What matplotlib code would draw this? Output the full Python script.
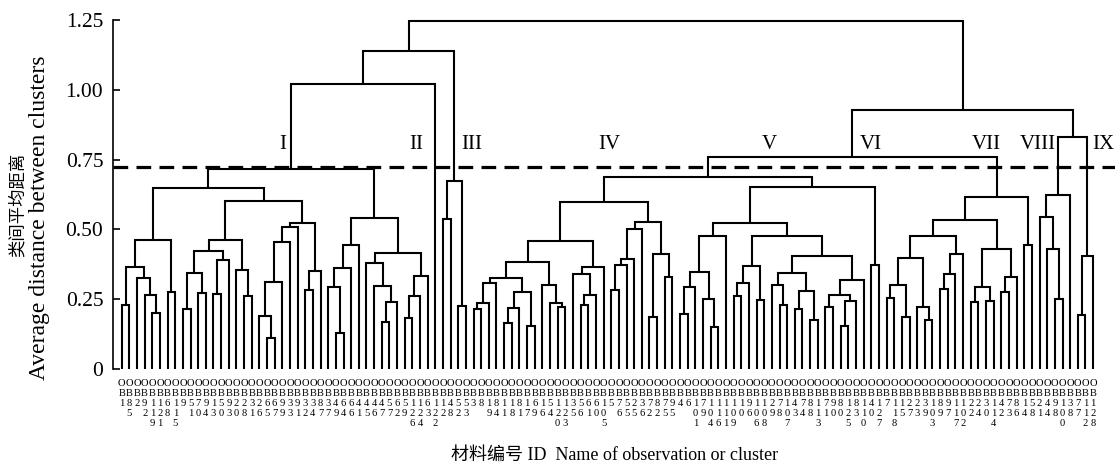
import matplotlib
matplotlib.use("Agg")
import matplotlib.pyplot as plt

plt.rcParams['font.family'] = ['Liberation Serif', 'Noto Sans CJK SC']

# sample numbers (OBxx) in leaf order, left to right
leaf_ids = [1, 85, 2, 92, 119, 121, 68, 115, 9, 51,
            70, 94, 13, 50, 93, 20, 28, 31, 26, 65,
            67, 99, 33, 91, 32, 34, 87, 37, 49, 64,
            66, 41, 45, 46, 47, 57, 62, 59, 126, 124,
            63, 122, 12, 48, 52, 53, 3, 8, 19, 84,
            11, 18, 81, 17, 69, 16, 54, 120, 123, 35,
            56, 61, 60, 105, 5, 76, 55, 25, 36, 72,
            82, 75, 95, 4, 6, 101, 79, 104, 116, 111,
            109, 10, 96, 106, 108, 29, 78, 107, 43, 74,
            88, 113, 71, 90, 80, 125, 83, 110, 40, 127,
            7, 118, 15, 27, 23, 39, 103, 89, 97, 117,
            102, 22, 24, 30, 114, 42, 73, 86, 14, 58,
            21, 44, 98, 100, 38, 77, 112, 128]

# merges: (left, right, height); an int is a leaf position 1..128
# cluster I
grp_a = (((1, 2, 0.229), (3, (4, (5, 6, 0.200), 0.265), 0.325), 0.367), (7, 8, 0.274), 0.462)
grp_b = ((((9, 10, 0.214), (11, 12, 0.271), 0.343), ((13, 14, 0.268), 15, 0.391), 0.421),
         (16, (17, 18, 0.262), 0.355), 0.462)
grp_c = (((((19, (20, 21, 0.110), 0.191), 22, 0.313), 23, 0.456), 24, 0.510),
         ((25, 26, 0.283), 27, 0.352), 0.522)
grp_d = (((((28, (29, 30, 0.130), 0.295), 31, 0.361), 32, 0.444)),
         ((33, (34, ((35, 36, 0.170), 37, 0.241), 0.297), 0.381),
          (((38, 39, 0.182), 40, 0.262), 41, 0.333), 0.417), 0.540)
clu_I = ((grp_a, (grp_b, grp_c, 0.600), 0.648), grp_d, 0.717)
clu_III = ((43, 44, 0.538), (45, 46, 0.227), 0.675)
left_half = ((clu_I, 42, 1.020), clu_III, 1.140)

# cluster IV
grp_e = (((((47, 48, 0.214), 49, 0.238), 50, 0.309)),
         (((51, 52, 0.166), 53, 0.217), (54, 55, 0.154), 0.275), 0.327)
grp_f = (56, (57, (58, 59, 0.223), 0.235), 0.301)
grp_g = ((60, ((61, 62, 0.229), 63, 0.265), 0.340), 64, 0.364)
grp_h = (((((65, 66, 0.283), 67, 0.373), 68, 0.393), 69, 0.500),
         ((70, 71, 0.188), (72, 73, 0.331), 0.411), 0.528)
clu_IV = (((grp_e, grp_f, 0.385), grp_g, 0.460), grp_h, 0.597)

# cluster V
grp_v1 = ((((74, 75, 0.197), 76, 0.293), (77, (78, 79, 0.152), 0.251), 0.349), 80, 0.477)
grp_v2 = ((((81, 82, 0.262), 83, 0.307), (84, 85, 0.247), 0.370))
grp_v3 = ((86, (87, 88, 0.229), 0.301), ((89, 90, 0.216), (91, 92, 0.176), 0.281), 0.344)
grp_v4 = (((93, 94, 0.223), ((95, 96, 0.154), 97, 0.244), 0.265), 98, 0.318)
clu_V = ((grp_v1, (grp_v2, (grp_v3, grp_v4, 0.404), 0.476), 0.522), (99, 100, 0.374), 0.652)

# cluster VII
grp_w1 = (((((101, 102, 0.253), (103, 104, 0.188), 0.301), (105, (106, 107, 0.176), 0.221), 0.397)),
          (((108, 109, 0.286), 110, 0.340), 111, 0.411), 0.477)
grp_w2 = (((112, 113, 0.241), (114, 115, 0.245), 0.293), ((116, 117, 0.277), 118, 0.329), 0.429)
clu_VII = ((grp_w1, grp_w2, 0.532), (119, 120, 0.444), 0.616)

clu_VIII = ((121, (122, (123, 124, 0.250), 0.429), 0.546), 125, 0.624)
clu_IX = ((126, 127, 0.194), 128, 0.405)

right_half = ((((clu_IV, clu_V, 0.688), clu_VII, 0.760)), (clu_VIII, clu_IX, 0.832), 0.927)
tree = (left_half, right_half, 1.248)

cut_height = 0.725
cluster_names = ['I', 'II', 'III', 'IV', 'V', 'VI', 'VII', 'VIII', 'IX']
name_x = [22.1, 39.5, 46.8, 64.8, 85.7, 98.9, 114.0, 120.8, 129.3]

fig = plt.figure(figsize=(11.15, 4.69), dpi=100)
ax = fig.add_axes([113 / 1115, 100 / 469, 987 / 1115, 349 / 469])


def draw(node):
    if isinstance(node, int):
        return node, 0.0
    a, b, h = node
    xa, ha = draw(a)
    xb, hb = draw(b)
    ax.plot([xa, xa, xb, xb], [ha, h, h, hb], color='black', lw=1.5,
            solid_joinstyle='miter', solid_capstyle='butt', clip_on=False)
    return (xa + xb) / 2, h


draw(tree)

ax.axhline(cut_height, xmin=0, xmax=1.016, color='black', lw=2.3,
           linestyle=(0, (4.6, 2.6)), clip_on=False)

for name, x in zip(cluster_names, name_x):
    ax.text(x, 0.805, name, ha='center', va='center', fontsize=15)

# leaf labels written top to bottom, one character per row
row_offsets = [11.9, 19.5, 26.7, 33.9, 41.1]
for i, lid in enumerate(leaf_ids):
    for j, ch in enumerate('OB' + str(lid)):
        ax.annotate(ch, xy=(i + 1, 0), xycoords=('data', 'axes fraction'),
                    xytext=(0, -row_offsets[j]), textcoords='offset points',
                    ha='center', va='baseline', fontsize=7.6,
                    annotation_clip=False)

ax.set_xlim(-0.137, 128.9)
ax.set_ylim(0, 1.25)
ax.set_xticks([])
ax.set_yticks([0, 0.25, 0.5, 0.75, 1.0, 1.25])
ax.set_yticklabels(['0', '0.25', '0.50', '0.75', '1.00', '1.25'])
ax.tick_params(axis='y', direction='in', length=5, width=1.2, pad=7, labelsize=15.5)
for side in ['top', 'right', 'bottom']:
    ax.spines[side].set_visible(False)
ax.spines['left'].set_linewidth(1.2)

fig.text(40 / 1115, 1 - 218 / 469, 'Average distance between clusters',
         rotation=90, ha='center', va='center', fontsize=17)
fig.text(18 / 1115, 1 - 205 / 469, '类间平均距离',
         rotation=90, ha='center', va='center', fontsize=12.5)
fig.text(615 / 1115, 1 - 455 / 469, '材料编号 ID  Name of observation or cluster',
         ha='center', va='center', fontsize=13)

fig.savefig('out.png', dpi=100)
